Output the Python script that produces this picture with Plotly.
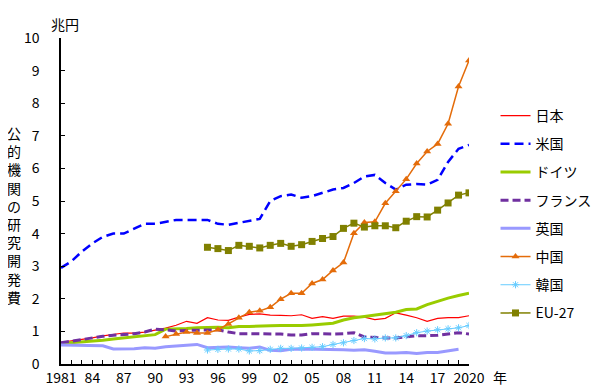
import plotly.graph_objects as go

years = list(range(1981, 2021))
tick_vals = list(range(1981, 2021, 3))
tick_text = ["1981", "84", "87", "90", "93", "96", "99", "02", "05", "08", "11", "14", "17", "2020"]

japan = [0.66, 0.70, 0.74, 0.80, 0.86, 0.90, 0.95, 0.95, 0.98, 1.04, 1.10, 1.19, 1.31, 1.25, 1.42, 1.35,
         1.34, 1.44, 1.52, 1.54, 1.50, 1.49, 1.48, 1.51, 1.40, 1.45, 1.40, 1.47, 1.47, 1.44, 1.36, 1.40,
         1.57, 1.50, 1.42, 1.31, 1.40, 1.42, 1.42, 1.48]
usa = [2.95, 3.15, 3.45, 3.70, 3.90, 4.00, 4.00, 4.15, 4.30, 4.30, 4.35, 4.42, 4.42, 4.43, 4.42, 4.30,
       4.27, 4.33, 4.38, 4.45, 5.00, 5.15, 5.20, 5.10, 5.15, 5.25, 5.35, 5.40, 5.55, 5.75, 5.80, 5.55,
       5.35, 5.50, 5.52, 5.50, 5.65, 6.20, 6.60, 6.72]
germany = [0.63, 0.65, 0.67, 0.70, 0.73, 0.77, 0.80, 0.84, 0.87, 0.90, 1.07, 1.07, 1.09, 1.11, 1.13, 1.13,
           1.11, 1.15, 1.15, 1.15, 1.17, 1.18, 1.17, 1.18, 1.20, 1.22, 1.25, 1.35, 1.42, 1.46, 1.51, 1.54,
           1.59, 1.67, 1.69, 1.82, 1.93, 2.02, 2.10, 2.17]
france = [0.65, 0.70, 0.76, 0.82, 0.85, 0.88, 0.90, 0.93, 0.98, 1.07, 1.05, 1.01, 1.03, 1.03, 1.03, 1.05,
          0.98, 0.93, 0.93, 0.93, 0.93, 0.92, 0.89, 0.89, 0.93, 0.92, 0.92, 0.93, 0.96, 0.83, 0.81, 0.80,
          0.80, 0.84, 0.87, 0.87, 0.88, 0.92, 0.96, 0.92]
uk = [0.58, 0.58, 0.58, 0.58, 0.56, 0.46, 0.46, 0.47, 0.50, 0.48, 0.53, 0.55, 0.56, 0.60, 0.50, 0.51,
      0.52, 0.50, 0.48, 0.52, 0.42, 0.41, 0.45, 0.46, 0.46, 0.45, 0.44, 0.44, 0.42, 0.44, 0.39, 0.34,
      0.34, 0.35, 0.32, 0.35, 0.35, 0.39, 0.45, None]
china = [None] * 10 + [0.84, 0.92, 0.98, 0.95, 0.95, 1.05, 1.23, 1.42, 1.59, 1.63, 1.74, 1.99, 2.17, 2.17,
                       2.47, 2.59, 2.87, 3.11, 4.01, 4.34, 4.36, 4.93, 5.30, 5.67, 6.15, 6.52, 6.75, 7.37,
                       8.51, 9.31]
korea = [None] * 14 + [0.43, 0.45, 0.46, 0.46, 0.40, 0.41, 0.45, 0.48, 0.48, 0.49, 0.51, 0.53, 0.60, 0.65,
                       0.72, 0.78, 0.77, 0.80, 0.80, 0.87, 0.96, 1.01, 1.05, 1.08, 1.11, 1.18]
eu27 = [None] * 14 + [3.58, 3.54, 3.48, 3.64, 3.61, 3.56, 3.64, 3.70, 3.61, 3.66, 3.76, 3.85, 3.91, 4.16,
                      4.32, 4.20, 4.24, 4.24, 4.18, 4.38, 4.52, 4.51, 4.72, 4.94, 5.18, 5.25]

series = [
    ("日本", japan, dict(color="#FF0000", width=1.2), None),
    ("米国", usa, dict(color="#0000FF", width=2.5, dash="9px,5px"), None),
    ("ドイツ", germany, dict(color="#99CC00", width=3), None),
    ("フランス", france, dict(color="#7030A0", width=3, dash="8px,4px"), None),
    ("英国", uk, dict(color="#9999FF", width=3), None),
    ("中国", china, dict(color="#E46C0A", width=1.5), dict(symbol="triangle-up", size=7, color="#E46C0A")),
    ("韓国", korea, dict(color="#66CCFF", width=1), dict(symbol="asterisk-open", size=6, color="#66CCFF", line=dict(width=1, color="#66CCFF"))),
    ("EU-27", eu27, dict(color="#808000", width=1.5), dict(symbol="square", size=7, color="#808000")),
]

fig = go.Figure()
for i, (name, vals, line, marker) in enumerate(series):
    fig.add_trace(go.Scatter(
        x=years, y=vals, name=name, mode="lines+markers" if marker else "lines",
        line=line, marker=marker, legendgroup=f"g{i}", connectgaps=False,
    ))

font_family = "Noto Sans CJK JP, Noto Sans, sans-serif"
fig.update_layout(
    width=600, height=391,
    margin=dict(l=53, r=121, t=30, b=26),
    paper_bgcolor="white", plot_bgcolor="white",
    font=dict(family=font_family, size=13, color="black"),
    showlegend=True,
    legend=dict(x=1.065, y=0.81, xanchor="left", yanchor="top", font=dict(size=14),
                tracegroupgap=7, bgcolor="rgba(0,0,0,0)", itemwidth=30),
    xaxis=dict(range=[1981, 2020], tickvals=tick_vals, ticktext=tick_text,
               ticks="inside", ticklen=4, tickcolor="black", showgrid=False, zeroline=False,
               showline=True, linecolor="black", linewidth=1.5,
               minor=dict(dtick=1, tick0=1981, ticks="inside", ticklen=4, tickcolor="black"),
               tickfont=dict(size=14)),
    yaxis=dict(range=[0, 10], dtick=1, ticks="inside", ticklen=4, tickcolor="black",
               showgrid=False, zeroline=False, showline=True, linecolor="black", linewidth=1.5,
               tickfont=dict(size=14), ticklabelstandoff=17),
)
fig.add_annotation(text="兆円", x=0.0, y=1.0, xref="paper", yref="paper", xanchor="left", yanchor="bottom",
                   xshift=-12, yshift=2, showarrow=False, font=dict(size=14))
fig.add_annotation(text="<br>".join(list("公的機関の研究開発費")), x=0, y=0.5, xref="paper", yref="paper",
                   xanchor="center", yanchor="middle", xshift=-47, yshift=-14, showarrow=False,
                   font=dict(size=14), align="center")
fig.add_annotation(text="年", x=1.0, y=0, xref="paper", yref="paper", xanchor="left", yanchor="top",
                   xshift=22, yshift=-1, showarrow=False, font=dict(size=14))

fig.write_html("out.html")
